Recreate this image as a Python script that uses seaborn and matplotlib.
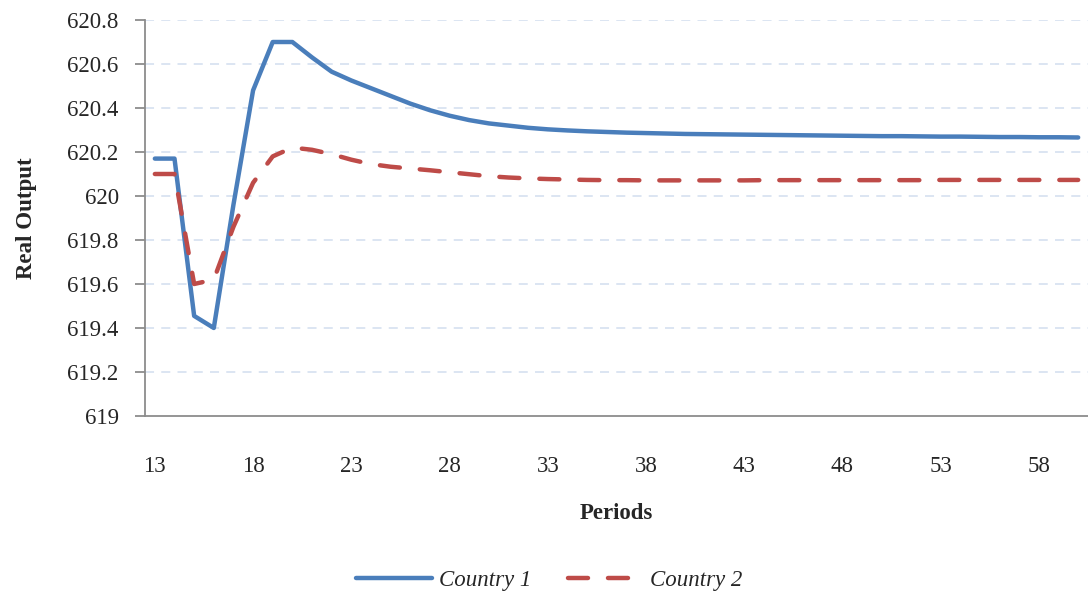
import pandas as pd
import seaborn as sns
import matplotlib.pyplot as plt

# Data
periods = list(range(13, 61))
country_1 = [620.17, 620.17, 619.455, 619.40, 619.96, 620.48, 620.70, 620.70,
             620.63, 620.565, 620.525, 620.49, 620.455, 620.42, 620.39, 620.365,
             620.345, 620.33, 620.32, 620.31, 620.303, 620.298, 620.294, 620.291,
             620.288, 620.286, 620.284, 620.282, 620.281, 620.280, 620.279, 620.278,
             620.277, 620.276, 620.275, 620.274, 620.273, 620.272, 620.272, 620.271,
             620.270, 620.270, 620.269, 620.268, 620.268, 620.267, 620.267, 620.266]
country_2 = [620.10, 620.10, 619.60, 619.62, 619.86, 620.06, 620.18, 620.22,
             620.21, 620.19, 620.165, 620.145, 620.133, 620.125, 620.117, 620.108,
             620.099, 620.09, 620.084, 620.08, 620.077, 620.075, 620.073, 620.072,
             620.072, 620.071, 620.071, 620.071, 620.071, 620.071, 620.071, 620.072,
             620.072, 620.072, 620.072, 620.072, 620.072, 620.072, 620.072, 620.072,
             620.073, 620.073, 620.073, 620.073, 620.073, 620.073, 620.073, 620.073]
series_names = ["Country 1", "Country 2"]
x_ticks = list(range(13, 59, 5))
y_ticks = [619, 619.2, 619.4, 619.6, 619.8, 620, 620.2, 620.4, 620.6, 620.8]
y_labels = ["619", "619.2", "619.4", "619.6", "619.8", "620", "620.2", "620.4", "620.6", "620.8"]

df = pd.DataFrame({"period": periods * 2,
                   "output": country_1 + country_2,
                   "series": [series_names[0]] * len(periods) + [series_names[1]] * len(periods)})

sns.set_style("white")
plt.rcParams['font.family'] = ['Liberation Serif', 'DejaVu Serif']
fs = 16.5

fig = plt.figure(figsize=(10.88, 5.97), dpi=100)
ax = fig.add_axes([0.1333, 0.3032, 0.8667, 0.6633])

palette = {"Country 1": "#4A7EBB", "Country 2": "#BE4B48"}
sns.lineplot(data=df, x="period", y="output", hue="series", style="series",
             palette=palette, dashes={"Country 1": "", "Country 2": (4.5, 4.5)},
             linewidth=3.2, ax=ax, legend=False)
for line in ax.lines:
    line.set_dash_capstyle("round")
    line.set_solid_capstyle("round")

ax.set_xlim(12.5, 60.5)
ax.set_ylim(619, 620.8)
ax.set_xticks(x_ticks)
ax.set_xticklabels([str(t) for t in x_ticks], fontsize=fs)
ax.set_yticks(y_ticks)
ax.set_yticklabels(y_labels, fontsize=fs)

for y in y_ticks[1:]:
    ax.axhline(y, color="#D9E3F1", linestyle=(0, (5, 4)), linewidth=1.3, zorder=0)

for side in ["top", "right"]:
    ax.spines[side].set_visible(False)
for side in ["left", "bottom"]:
    ax.spines[side].set_color("#8C8C8C")
    ax.spines[side].set_linewidth(1.3)

ax.tick_params(axis="y", which="both", left=True, length=7, width=1.3, color="#8C8C8C", pad=12)
ax.tick_params(axis="x", which="both", bottom=False, pad=25)

ax.set_xlabel("Periods", fontsize=fs, fontweight="bold", labelpad=19)
ax.set_ylabel("Real Output", fontsize=fs, fontweight="bold", labelpad=22)

handles = [plt.Line2D([], [], color="#4A7EBB", linewidth=3.2, solid_capstyle="round"),
           plt.Line2D([], [], color="#BE4B48", linewidth=3.2, dashes=(4.5, 4.5), dash_capstyle="round")]
fig.legend(handles, series_names, loc="center", bbox_to_anchor=(0.505, 0.028), ncol=2,
           frameon=False, prop={"size": fs, "style": "italic"}, handlelength=3.3,
           handletextpad=0.3, columnspacing=1.6)

fig.savefig("out.png", dpi=100)
